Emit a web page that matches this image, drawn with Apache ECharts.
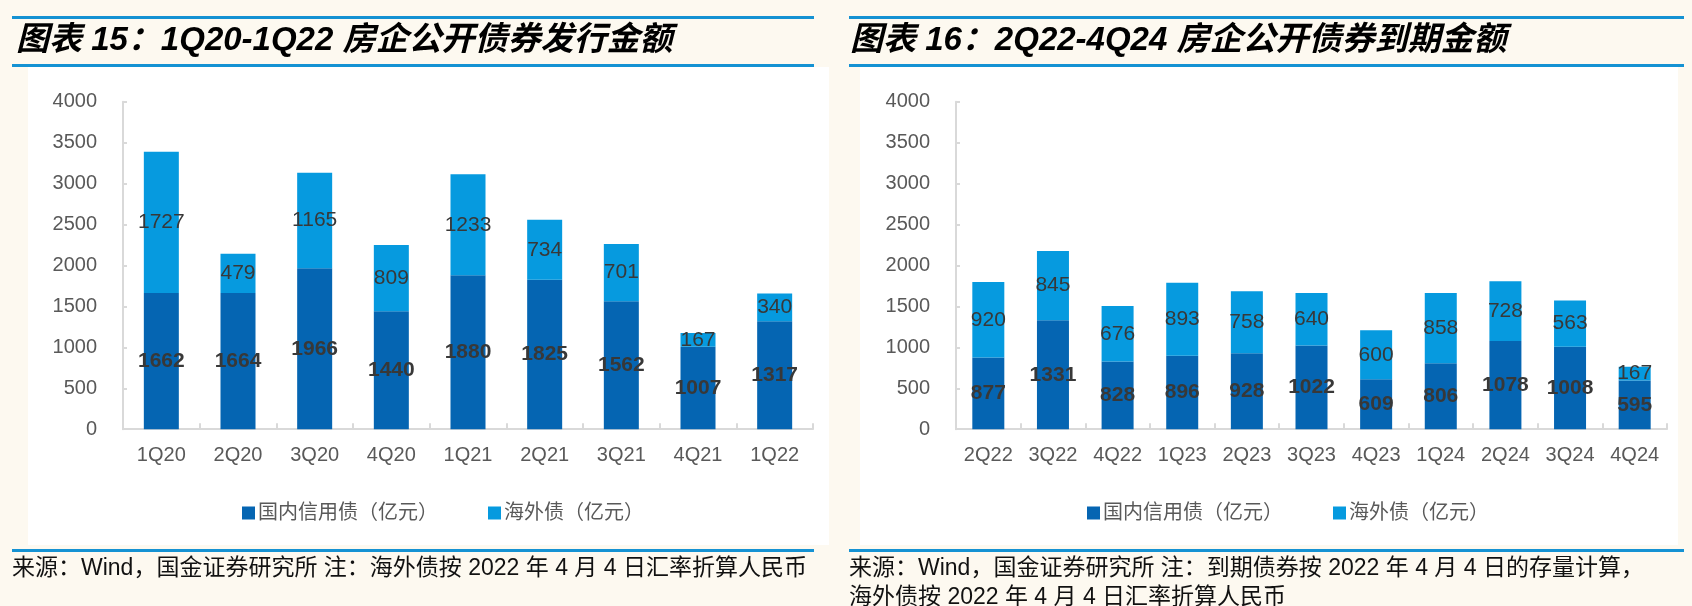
<!DOCTYPE html>
<html>
<head>
<meta charset="utf-8">
<script src="https://cdn.jsdelivr.net/npm/echarts@6/dist/echarts.min.js"></script>
<style>
html,body{margin:0;padding:0;background:#FDF9F0;}
#c{width:1692px;height:606px;}
</style>
</head>
<body>
<div id="c"></div>
<script>
// ---- data ----
var categories1 = ['1Q20','2Q20','3Q20','4Q20','1Q21','2Q21','3Q21','4Q21','1Q22'];
var domestic1 = [1662,1664,1966,1440,1880,1825,1562,1007,1317];
var overseas1 = [1727,479,1165,809,1233,734,701,167,340];

var categories2 = ['2Q22','3Q22','4Q22','1Q23','2Q23','3Q23','4Q23','1Q24','2Q24','3Q24','4Q24'];
var domestic2 = [877,1331,828,896,928,1022,609,806,1078,1008,595];
var overseas2 = [920,845,676,893,758,640,600,858,728,563,167];

var seriesNames = ['国内信用债（亿元）','海外债（亿元）'];
var yTicks = {min:0, max:4000, interval:500};

var title1 = '图表 15：1Q20-1Q22 房企公开债券发行金额';
var title2 = '图表 16：2Q22-4Q24 房企公开债券到期金额';
var source1 = '来源：Wind，国金证券研究所 注：海外债按 2022 年 4 月 4 日汇率折算人民币';
var source2 = '来源：Wind，国金证券研究所 注：到期债券按 2022 年 4 月 4 日的存量计算，\n海外债按 2022 年 4 月 4 日汇率折算人民币';

// ---- styles ----
var DARK = '#0565B2', LIGHT = '#069ADF', LINE = '#1592D3';
var FONT = '"Liberation Sans", Arial, "Noto Sans CJK SC", sans-serif';
var AXIS_GRAY = '#D9D9D9', LABEL_GRAY = '#595959';

var chart = echarts.init(document.getElementById('c'), null, {renderer:'canvas'});

function xAxis(idx, cats){
  return {
    type:'category', gridIndex:idx, data:cats,
    axisLine:{lineStyle:{color:AXIS_GRAY, width:2}},
    axisTick:{show:true, inside:true, length:6, lineStyle:{color:AXIS_GRAY, width:2}},
    axisLabel:{color:LABEL_GRAY, fontSize:20, fontFamily:FONT, margin:16, interval:0}
  };
}
function yAxis(idx){
  return {
    type:'value', gridIndex:idx, min:yTicks.min, max:yTicks.max, interval:yTicks.interval,
    axisLine:{show:true, lineStyle:{color:AXIS_GRAY, width:2}},
    axisTick:{show:true, inside:true, length:4, lineStyle:{color:AXIS_GRAY, width:2}},
    splitLine:{show:false},
    axisLabel:{color:LABEL_GRAY, fontSize:20, fontFamily:FONT, margin:26,
               formatter:function(v){return String(v);}}
  };
}
function bar(name, data, idx, color, bold, width){
  return {
    type:'bar', name:name, data:data, stack:'s'+idx, xAxisIndex:idx, yAxisIndex:idx,
    barWidth:width, itemStyle:{color:color},
    label:{show:true, position:'inside', color:'#383838', fontSize:21,
           fontWeight: bold ? 'bold' : 'normal', fontFamily:FONT},
    emphasis:{disabled:true}
  };
}
function titleText(text, left){
  return {
    text:text, left:left, top:24, padding:0,
    textStyle:{fontSize:33, fontWeight:'bold', fontStyle:'italic', color:'#000',
               fontFamily:'"Liberation Sans", Arial, "Noto Sans CJK SC", sans-serif'}
  };
}
function sourceText(text, left){
  return {
    text:text, left:left, top:554, padding:0,
    textStyle:{fontSize:23, fontWeight:'normal', color:'#111', lineHeight:29,
               fontFamily:'"Liberation Sans", Arial, "Noto Sans CJK SC", sans-serif'}
  };
}
function hline(x1, x2, y){
  return {type:'rect', shape:{x:x1, y:y, width:x2-x1, height:3}, style:{fill:LINE}, z:-5, silent:true};
}
function legend(left){
  return {data:seriesNames, left:left, top:498, icon:'rect', itemWidth:13, itemHeight:13, itemGap:50,
          textStyle:{color:LABEL_GRAY, fontSize:20, fontFamily:FONT, padding:[0,0,0,-2]}, selectedMode:false};
}

var option = {
  backgroundColor:'#FDF9F0',
  animation:false,
  title:[titleText(title1, 16), titleText(title2, 850), sourceText(source1, 12), sourceText(source2, 849)],
  graphic:[
    {type:'rect', shape:{x:28, y:67, width:801, height:478}, style:{fill:'#FFFFFF'}, z:-10, silent:true},
    {type:'rect', shape:{x:860, y:67, width:818, height:478}, style:{fill:'#FFFFFF'}, z:-10, silent:true},
    hline(12, 814, 16), hline(12, 814, 64), hline(12, 814, 549),
    hline(849, 1684, 16), hline(849, 1684, 64), hline(849, 1684, 549)
  ],
  legend:[legend(237), legend(1082)],
  grid:[
    {left:123, top:101.7, width:690, height:327.5, containLabel:false},
    {left:956, top:101.7, width:711, height:327.5, containLabel:false}
  ],
  xAxis:[xAxis(0, categories1), xAxis(1, categories2)],
  yAxis:[yAxis(0), yAxis(1)],
  series:[
    bar(seriesNames[0], domestic1, 0, DARK, true, 35),
    bar(seriesNames[1], overseas1, 0, LIGHT, false, 35),
    bar(seriesNames[0], domestic2, 1, DARK, true, 32),
    bar(seriesNames[1], overseas2, 1, LIGHT, false, 32)
  ]
};
chart.setOption(option);
</script>
</body>
</html>
